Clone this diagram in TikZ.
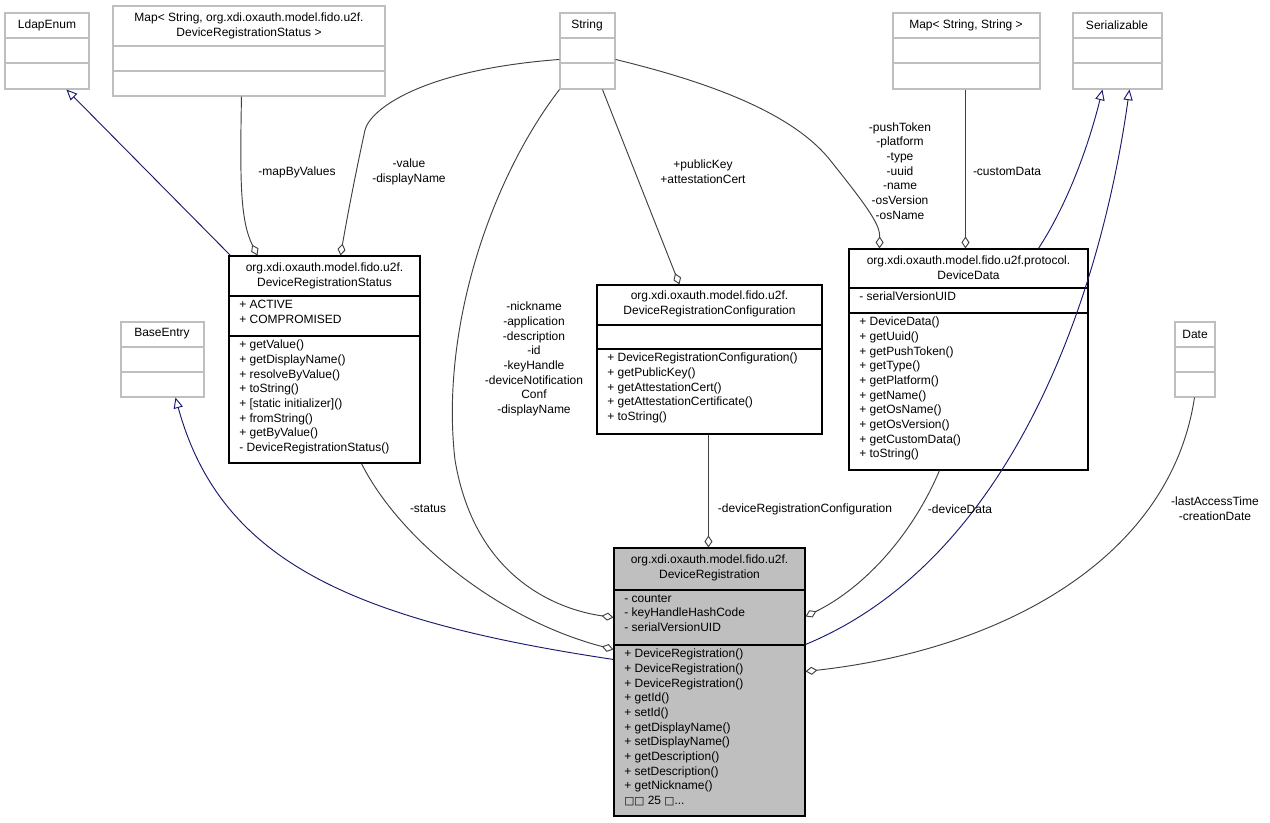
\documentclass[tikz,border=0pt]{standalone}
\usepackage{fontspec}
\setmainfont{Liberation Sans}
\newfontfamily\dvs{DejaVu Sans}
\usetikzlibrary{arrows.meta,fit,calc}
\definecolor{navyb}{HTML}{191970}
\definecolor{lgray}{HTML}{BFBFBF}
\definecolor{edgeg}{HTML}{404040}
\newcommand{\umlbox}[9]{% name x1 y1 x2 y2 s1 s2 drawcol fill
  \node[fit={(#2,#3)(#4,#5)},inner sep=0pt,draw=#8,fill=#9,line width=0.8pt] (#1) {};
  \draw[#8,line width=0.8pt] (#2,#6) -- (#4,#6) (#2,#7) -- (#4,#7);}
\begin{document}
\begin{tikzpicture}[x=0.75pt,y=-0.75pt,
  every node/.style={font=\fontsize{9}{11}\selectfont},
  ttl/.style={align=center,inner sep=0pt},
  mem/.style={align=left,anchor=north west,inner sep=0pt},
  lbl/.style={align=center,inner sep=0pt,text=black},
  agg/.style={edgeg,line width=0.7pt,-{Diamond[open,length=9pt,width=6pt]}},
  inh/.style={navyb,line width=0.7pt,-{Triangle[open,length=8pt,width=7pt]}}]
\useasboundingbox (0,0) rectangle (1270,823);
\fill[white] (0,0) rectangle (1270,823);
% boxes
\umlbox{ldap}{5}{13}{89}{89}{38}{63}{lgray}{white}
\node[ttl] at (47,25) (ldapt) {LdapEnum};
\umlbox{mapd}{113}{6}{385}{96}{46}{71}{lgray}{white}
\node[ttl] at (249,26) (mapdt) {Map< String, org.xdi.oxauth.model.fido.u2f.\\DeviceRegistrationStatus >};
\umlbox{str}{560}{13}{615}{89}{38}{63}{lgray}{white}
\node[ttl] at (587,25) (strt) {String};
\umlbox{mapss}{893}{13}{1040}{89}{38}{63}{lgray}{white}
\node[ttl] at (966,25) (mapsst) {Map< String, String >};
\umlbox{ser}{1073}{13}{1162}{89}{38}{63}{lgray}{white}
\node[ttl] at (1117,25) (sert) {Serializable};
\umlbox{base}{121}{322}{204}{397}{347}{372}{lgray}{white}
\node[ttl] at (162,334) (baset) {BaseEntry};
\umlbox{date}{1175}{322}{1215}{397}{347}{372}{lgray}{white}
\node[ttl] at (1195,334) (datet) {Date};
\umlbox{drs}{229}{256}{420}{463}{296}{336}{black}{white}
\node[ttl] at (324.5,276) (drst) {org.xdi.oxauth.model.fido.u2f.\\DeviceRegistrationStatus};
\node[mem] at (239,300) (drsa) {+ ACTIVE\\+ COMPROMISED};
\node[mem] at (239,340) (drsm) {+ getValue()\\+ getDisplayName()\\+ resolveByValue()\\+ toString()\\+ [static initializer]()\\+ fromString()\\+ getByValue()\\- DeviceRegistrationStatus()};
\umlbox{drc}{597}{285}{822}{434}{325}{349}{black}{white}
\node[ttl] at (709.5,304) (drct) {org.xdi.oxauth.model.fido.u2f.\\DeviceRegistrationConfiguration};
\node[mem] at (607,353) (drcm) {+ DeviceRegistrationConfiguration()\\+ getPublicKey()\\+ getAttestationCert()\\+ getAttestationCertificate()\\+ toString()};
\umlbox{dd}{849}{249}{1088}{470}{288}{313}{black}{white}
\node[ttl] at (968.5,268) (ddt) {org.xdi.oxauth.model.fido.u2f.protocol.\\DeviceData};
\node[mem] at (859,292) (dda) {- serialVersionUID};
\node[mem] at (859,317) (ddm) {+ DeviceData()\\+ getUuid()\\+ getPushToken()\\+ getType()\\+ getPlatform()\\+ getName()\\+ getOsName()\\+ getOsVersion()\\+ getCustomData()\\+ toString()};
\umlbox{dr}{614}{548}{805}{816}{590}{645}{black}{lgray}
\node[ttl] at (709.5,568) (drt) {org.xdi.oxauth.model.fido.u2f.\\DeviceRegistration};
\node[mem] at (624,594) (dra) {- counter\\- keyHandleHashCode\\- serialVersionUID};
\node[mem] at (624,649) (drm) {+ DeviceRegistration()\\+ DeviceRegistration()\\+ DeviceRegistration()\\+ getId()\\+ setId()\\+ getDisplayName()\\+ setDisplayName()\\+ getDescription()\\+ setDescription()\\+ getNickname()\\{\dvs\fontsize{8}{11}\selectfont □□} 25 {\dvs\fontsize{8}{11}\selectfont □}...};
% edges
\draw[inh] ($(drs.north west)+(2,0)$) -- ($(ldap.south west)+(62,0)$);
\draw[agg] ($(mapd.south west)+(129,0)$) .. controls (240,180) and (240,220) .. ($(drs.north west)+(29,0)$);
\node[lbl] at (297,172) (l1) {-mapByValues};
\draw[agg] ($(str.north west)+(0,47)$) .. controls (420,70) and (370,110) .. (365,130) .. controls (352,190) and (345,230) .. ($(drs.north west)+(112,0)$);
\node[lbl] at (409,172) (l2) {-value\\-displayName};
\draw[agg] ($(str.south west)+(0,0)$) .. controls (490,180) and (440,330) .. (455,460) .. controls (475,580) and (560,610) .. ($(dr.north west)+(0,70)$);
\node[lbl] at (534,359) (l3) {-nickname\\-application\\-description\\-id\\-keyHandle\\-deviceNotification\\Conf\\-displayName};
\draw[agg] ($(str.south west)+(43,0)$) -- ($(drc.north west)+(83,0)$);
\node[lbl] at (703,172) (l4) {+publicKey\\+attestationCert};
\draw[agg] ($(str.north east)+(0,47)$) .. controls (700,80) and (790,110) .. (830,160) .. controls (870,210) and (880,225) .. ($(dd.north west)+(31,0)$);
\node[lbl] at (900,171) (l5) {-pushToken\\-platform\\-type\\-uuid\\-name\\-osVersion\\-osName};
\draw[agg] ($(mapss.south west)+(73,0)$) -- ($(dd.north west)+(117,0)$);
\node[lbl] at (1007,171) (l6) {-customData};
\draw[inh] ($(dd.north west)+(190,0)$) .. controls (1070,200) and (1090,140) .. ($(ser.south west)+(30,0)$);
\draw[inh] ($(dr.north east)+(0,97)$) .. controls (1010,560) and (1100,300) .. ($(ser.south west)+(57,0)$);
\draw[agg] ($(date.south west)+(20,0)$) .. controls (1170,560) and (1000,650) .. ($(dr.north east)+(0,124)$);
\node[lbl] at (1215,509) (l7) {-lastAccessTime\\-creationDate};
\draw[inh] ($(dr.north west)+(0,112)$) .. controls (350,620) and (220,560) .. ($(base.south west)+(55,0)$);
\draw[agg] ($(drs.south west)+(133,0)$) .. controls (400,540) and (500,620) .. ($(dr.north west)+(0,102)$);
\node[lbl] at (428,509) (l8) {-status};
\draw[agg] ($(drc.south west)+(112,0)$) -- ($(dr.north west)+(95,0)$);
\node[lbl] at (805,509) (l9) {-deviceRegistrationConfiguration};
\draw[agg] ($(dd.south west)+(91,0)$) .. controls (910,540) and (860,590) .. ($(dr.north east)+(0,69)$);
\node[lbl] at (960,509) (l10) {-deviceData};
\end{tikzpicture}
\end{document}
